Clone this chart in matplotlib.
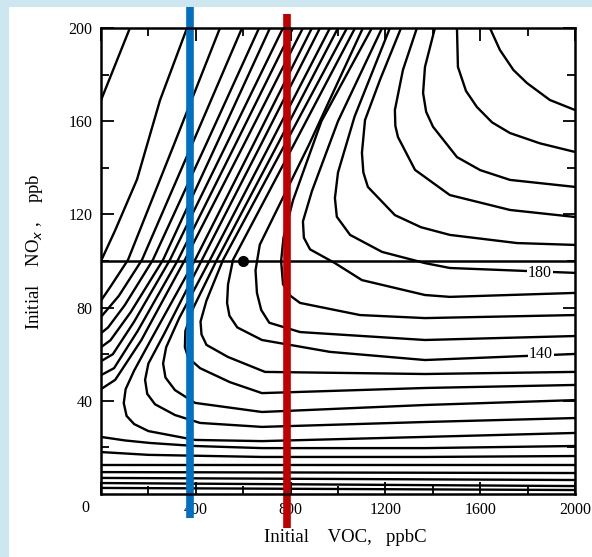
import numpy as np
import matplotlib
matplotlib.use("Agg")
import matplotlib.pyplot as plt
from matplotlib.patches import Rectangle

plt.rcParams['font.family'] = ['Liberation Serif', 'DejaVu Serif']

# ozone isopleths (ppb O3), points as (VOC ppbC, NOx ppb)
iso_230 = [(1641, 200), (1683, 190.6), (1740, 182), (1797, 176.4), (1894, 169.1), (2000, 164.8)]
iso_220 = [(1502, 200), (1506, 183.3), (1540, 173), (1586, 166.1), (1650, 159.5), (1726, 154.9), (1852, 150.5), (2000, 146.8)]
iso_210 = [(1409, 200), (1367, 183.3), (1359, 172.1), (1372, 164), (1401, 157.6), (1502, 144.6), (1600, 139), (1726, 134.8), (2000, 131.8)]
iso_200 = [(1333, 200), (1274, 182), (1240, 164.8), (1242, 158), (1253, 153.2), (1325, 139.1), (1472, 128.3), (1726, 121.9), (2000, 118.9)]
iso_190 = [(1266, 200), (1177, 177.7), (1114, 160.5), (1101, 146.4), (1107, 138), (1126, 131.8), (1240, 119.7), (1350, 114.5), (1472, 111.2), (1755, 107.7), (2000, 106.9)]
iso_180 = [(1219, 200), (1070, 162), (1000, 138), (987, 127), (995, 119), (1051, 111.2), (1186, 103.9), (1367, 99.1), (1472, 97), (2000, 94.9)]
iso_170 = [(1186, 200), (1000, 160), (890, 130), (852, 117), (856, 110), (882, 105), (987, 99.1), (1101, 91.8), (1367, 85.4), (1472, 84.6), (2000, 86.3)]
iso_160 = [(1143, 200), (930, 160), (810, 126), (770, 110), (760, 100), (768, 90), (800, 85), (840, 82), (1093, 76.8), (1367, 75.5), (2000, 76.8)]
iso_150 = [(1105, 200), (878, 150), (670, 107), (652, 96), (658, 86.3), (676, 79), (710, 73.5), (840, 69.5), (1367, 66.1), (2000, 67.8)]
iso_140 = [(1072, 200), (814, 150), (557, 100.5), (536, 90), (532, 82), (542, 76.5), (575, 71.5), (679, 66.1), (966, 61), (1367, 57.5), (2000, 60.1)]
iso_130 = [(1038, 200), (776, 150), (515, 100.5), (445, 83), (420, 74), (424, 68.5), (445, 64), (536, 58.8), (692, 52.4), (1367, 51.5), (2000, 52.4)]
iso_120 = [(1000, 200), (745, 150), (489, 100.5), (390, 80), (356, 70), (354, 63), (368, 58.5), (418, 54), (544, 48), (679, 43.3), (1367, 45.5), (2000, 46.8)]
iso_110 = [(966, 200), (713, 150), (460, 100.5), (330, 75.5), (275, 63), (262, 56), (272, 50), (312, 44.6), (397, 39.1), (679, 35.2), (1367, 38.2), (2000, 40.3)]
iso_100 = [(924, 200), (675, 150), (426, 100.5), (268, 69), (200, 56), (186, 49), (195, 43), (228, 38.5), (312, 33.9), (418, 30.5), (679, 28.8), (1367, 30.9), (2000, 32.6)]
iso_090 = [(890, 200), (643, 150), (397, 100.5), (215, 67), (140, 53), (104, 45), (96, 39), (108, 33.5), (140, 30), (200, 27), (397, 23.2), (679, 22.7), (1367, 24.5), (2000, 26.2)]

# low levels: VOC-limited branch (top-left) and NOx-limited branch (bottom)
iso_080_hi = [(852, 200), (603, 150), (354, 100.5), (170, 66), (60, 49), (0, 45)]
iso_070_hi = [(810, 200), (567, 150), (325, 100.5), (155, 70), (55, 54), (0, 51)]
iso_060_hi = [(768, 200), (529, 150), (291, 100.5), (140, 74), (50, 60), (0, 57)]
iso_050_hi = [(713, 200), (487, 150), (262, 100.5), (125, 78), (40, 66), (0, 63)]
iso_040_hi = [(667, 200), (443, 150), (219, 100.5), (100, 81), (30, 71.5), (0, 69)]
iso_030_hi = [(595, 200), (384, 150), (173, 100.5), (75, 85), (0, 76)]
iso_020_hi = [(502, 200), (308, 150), (114, 100.5), (40, 89), (0, 83)]
iso_010_hi = [(363, 200), (249, 169), (152, 135), (59, 113), (0, 100)]
iso_000_hi = [(122, 200), (0, 169)]

iso_080_lo = [(0, 24.5), (100, 23), (207, 21.9), (397, 20.6), (679, 19.7), (1367, 19.7), (2000, 20.6)]
iso_070_lo = [(0, 18), (200, 16.8), (679, 15.9), (1367, 15.9), (2000, 16.3)]
iso_060_lo = [(0, 12.4), (679, 12.4), (2000, 12.4)]
iso_050_lo = [(0, 9.4), (2000, 9)]
iso_040_lo = [(0, 6.9), (2000, 6)]
iso_030_lo = [(0, 4.7), (2000, 3.4)]
iso_020_lo = [(0, 2.6), (2000, 1.7)]

curves = [iso_230, iso_220, iso_210, iso_200, iso_190, iso_180, iso_170, iso_160,
          iso_150, iso_140, iso_130, iso_120, iso_110, iso_100, iso_090,
          iso_080_hi, iso_070_hi, iso_060_hi, iso_050_hi, iso_040_hi, iso_030_hi,
          iso_020_hi, iso_010_hi, iso_000_hi,
          iso_080_lo, iso_070_lo, iso_060_lo, iso_050_lo, iso_040_lo, iso_030_lo, iso_020_lo]

# labelled isopleths: (text, VOC, NOx)
iso_labels = [("180", 1852, 94.9), ("140", 1856, 60.1)]

nox_line = 100          # fixed NOx level
base_point = (600, 100)  # base case
voc_blue = 375
voc_red = 785

x_ticks = [0, 400, 800, 1200, 1600, 2000]
y_ticks = [40, 80, 120, 160, 200]

fig = plt.figure(figsize=(5.92, 5.57), dpi=100)
fig.patch.set_facecolor('#cde7f0')
fig.patches.append(Rectangle((9 / 592, 0), 1, 1 - 7 / 557, transform=fig.transFigure,
                             facecolor='white', edgecolor='none', zorder=-1))

ax = fig.add_axes([101 / 592, 1 - 494 / 557, 474 / 592, 466 / 557])
ax.set_xlim(0, 2000)
ax.set_ylim(0, 200)

for c in curves:
    xs, ys = zip(*c)
    ax.plot(xs, ys, color='black', lw=1.7, solid_capstyle='round', solid_joinstyle='round')

for txt, x, y in iso_labels:
    ax.text(x, y, txt, fontsize=11.5, ha='center', va='center',
            bbox=dict(facecolor='white', edgecolor='none', pad=0.5))

ax.axhline(nox_line, color='black', lw=1.8)
ax.plot(*base_point, 'o', color='black', ms=7)

# highlighted VOC levels, drawn past the frame
tr = ax.get_xaxis_transform()
ax.plot([voc_blue, voc_blue], [1.045, -0.052], color='#0070c0', lw=5.5,
        solid_capstyle='butt', transform=tr, clip_on=False)
ax.plot([voc_red, voc_red], [1.030, -0.073], color='#c00000', lw=5.5,
        solid_capstyle='butt', transform=tr, clip_on=False)

ax.set_xticks(x_ticks)
ax.set_xticklabels([''] + [str(v) for v in x_ticks[1:]])
ax.set_yticks(y_ticks)
ax.set_xticks(np.arange(200, 2000, 400), minor=True)
ax.set_yticks(np.arange(20, 200, 40), minor=True)
ax.tick_params(which='both', direction='in', top=True, right=True, width=1.3, labelsize=11.5)
ax.tick_params(which='major', length=9, pad=6)
ax.tick_params(which='minor', length=6)
ax.text(-0.032, -0.030, '0', transform=ax.transAxes, fontsize=11.5, ha='center', va='center')
for s in ax.spines.values():
    s.set_linewidth(1.8)

ax.set_xlabel('Initial    VOC,   ppbC', fontsize=13.5)
ax.xaxis.set_label_coords(0.515, -0.075)
ax.set_ylabel(r'Initial    NO$_{\it x}$ ,    ppb', fontsize=13.5)
ax.yaxis.set_label_coords(-0.118, 0.52)

fig.savefig('out.png', dpi=100)
